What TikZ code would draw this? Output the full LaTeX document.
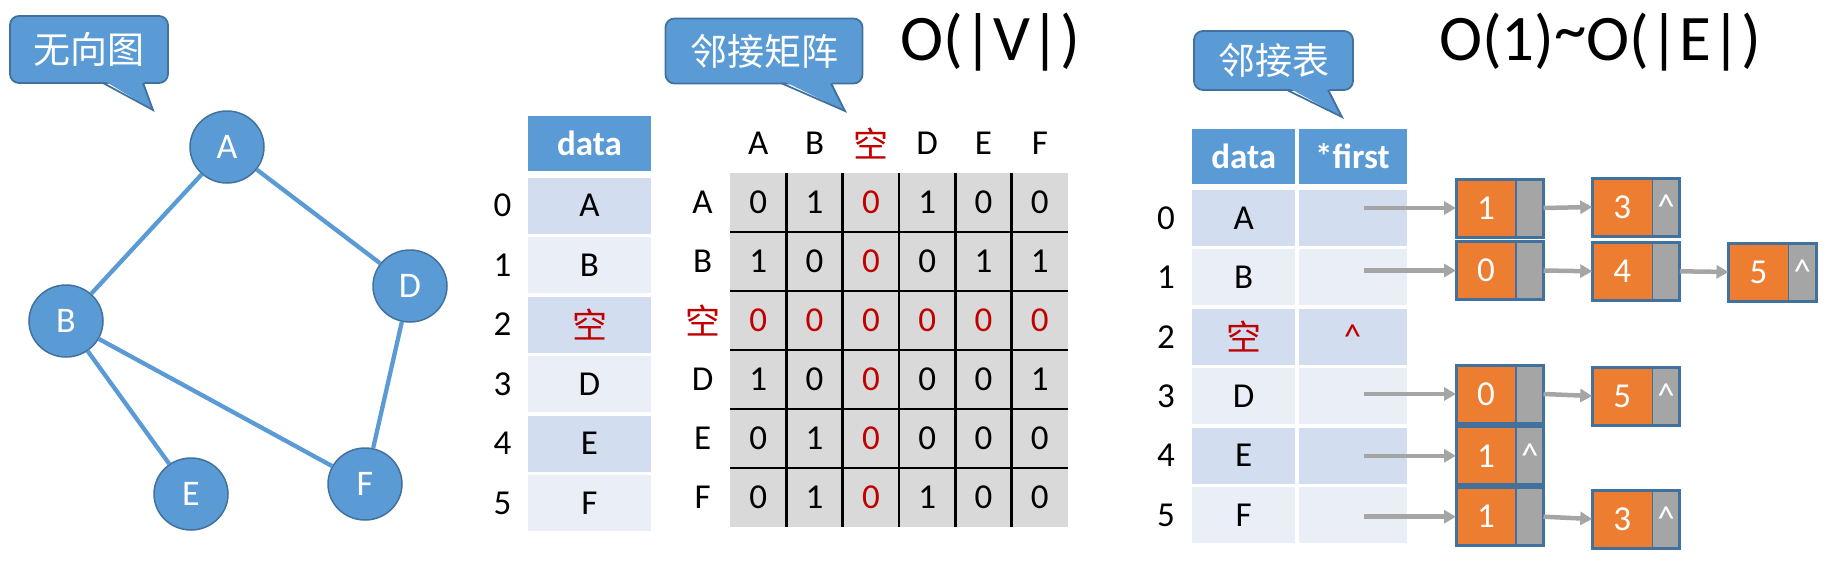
\documentclass[tikz,border=0pt]{standalone}
\usepackage{fontspec}
\setmainfont{Carlito}
\newfontfamily\cjk{Noto Sans CJK SC}
\usetikzlibrary{shapes.geometric,arrows.meta,positioning}

\definecolor{fillBlue}{HTML}{5B9BD5}
\definecolor{edgeBlue}{HTML}{41719C}
\definecolor{bandD}{HTML}{D2DEEF}
\definecolor{bandL}{HTML}{EAEFF7}
\definecolor{cellGray}{HTML}{D9D9D9}
\definecolor{redK}{HTML}{C00000}
\definecolor{listOrange}{HTML}{ED7D31}
\definecolor{listGray}{HTML}{A5A5A5}

\begin{document}
\begin{tikzpicture}[x=1pt, y=-1pt,
  every node/.style={inner sep=0pt, font=\fontsize{35}{42}\selectfont},
  vert/.style={ellipse, draw=edgeBlue, line width=1.5pt, fill=fillBlue,
               text=white, minimum width=74pt, minimum height=72pt,
               font=\fontsize{36}{42}\selectfont},
  link/.style={fillBlue, line width=4.3pt},
  bubble/.style={draw=edgeBlue, line width=1.8pt, fill=fillBlue,
                 rounded corners=9pt, text=white,
                 font=\cjk\fontsize{37}{44}\selectfont},
  hdr/.style={fill=fillBlue, text=white, minimum height=55pt,
              font=\fontsize{35}{42}\selectfont\bfseries},
  cell/.style={minimum height=56pt},
  gline/.style={black, line width=2.5pt},
  dat/.style={fill=listOrange, draw=edgeBlue, line width=1.5pt, outer sep=0pt,
              text=white, minimum width=60pt, minimum height=58pt},
  ptr/.style={fill=listGray, draw=edgeBlue, line width=1.5pt, outer sep=0pt,
              text=white, minimum width=27.5pt, minimum height=58pt},
  nxt/.style={listGray, line width=4.5pt, -{Triangle[length=12pt,width=13pt]}},
  big/.style={font=\fontsize{65}{72}\selectfont, anchor=base}
]
\useasboundingbox (0,0) rectangle (1836,562);

%% undirected graph
\node[vert] (A) at (227,147) {A};
\node[vert] (B) at (66,321) {B};
\node[vert] (D) at (410,286) {D};
\node[vert] (E) at (191,494) {E};
\node[vert] (F) at (365,484) {F};
\foreach \u/\w in {A/B, A/D, B/E, B/F, D/F}
  \draw[link] (\u) -- (\w);

%% callouts
\node[bubble, minimum width=158pt, minimum height=67pt] (cg) at (89,49.5) {无向图};
\node[bubble, minimum width=197pt, minimum height=65pt] (cm) at (764,51) {邻接矩阵};
\node[bubble, minimum width=159pt, minimum height=59pt] (ct) at (1273.5,60.5) {邻接表};
\foreach \a/\b/\yb/\tx/\ty in {103/143/83/153/110, 782/831/83.5/845/111, 1287/1328/90/1342/117} {
  \fill[fillBlue] (\a,{\yb-3}) -- (\tx,\ty) -- (\b,{\yb-3}) -- cycle;
  \draw[edgeBlue, line width=1.8pt] (\a,\yb) -- (\tx,\ty) -- (\b,\yb);
}

%% vertex table
\node[hdr, minimum width=123pt] (dh) at (589.5,143.3) {data};
\foreach \t [count=\i from 0] in {A,B,{\cjk\color{redK}空},D,E,F} {
  \ifodd\i \def\rowfill{bandL}\else\def\rowfill{bandD}\fi
  \node[cell, fill=\rowfill, minimum width=123pt] (d\i) at (589.5,{205.5+59.5*\i}) {\t};
  \node (di\i) at (502.5,{205.5+59.5*\i}) {\i};
}

%% adjacency matrix
\fill[cellGray] (730,173) rectangle (1068,527);
\foreach \k in {1,...,5} {
  \draw[gline] ({730+338/6*\k},173) -- ({730+338/6*\k},527);
  \draw[gline] (730,{173+59*\k}) -- (1068,{173+59*\k});
}
\foreach \t [count=\j from 0] in {A,B,{\cjk\color{redK}空},D,E,F} {
  \node (ch\j) at ({758.2+56.33*\j},143) {\t};
  \node (rh\j) at (702.6,{202.5+59*\j}) {\t};
}
\foreach \row [count=\i from 0] in {{0,1,0,1,0,0},{1,0,0,0,1,1},{0,0,0,0,0,0},
                                   {1,0,0,0,0,1},{0,1,0,0,0,0},{0,1,0,1,0,0}}
  \foreach \v [count=\j from 0] in \row {
    \ifnum\i=2 \def\vc{redK}\else\ifnum\j=2 \def\vc{redK}\else\def\vc{black}\fi\fi
    \node[text=\vc] (m\i\j) at ({758.2+56.33*\j},{202.5+59*\i}) {\v};
  }

\node[big] (ov) at (990.5,60) {O(|V|)};

%% adjacency list
\node[big] (oe) at (1600,60) {O(1)\raisebox{9pt}{\textasciitilde}O(|E|)};
\node[hdr, minimum width=103pt] (ah) at (1243.7,156) {data};
\node[hdr, minimum width=108pt] (fh) at (1352.5,156) {*first};
\foreach \t/\p [count=\i from 0] in {A/{},B/{},{\cjk\color{redK}空}/{\color{redK}\textasciicircum},D/{},E/{},F/{}} {
  \ifodd\i \def\rowfill{bandL}\else\def\rowfill{bandD}\fi
  \node[cell, fill=\rowfill, minimum width=103pt] (a\i) at (1243.7,{218+59.4*\i}) {\t};
  \node[cell, fill=\rowfill, minimum width=108pt] (f\i) at (1352.5,{218+59.4*\i}) {\p};
  \node (ai\i) at (1166,{218+59.4*\i}) {\i};
}
\foreach \r/\c/\v/\e/\y in {0/0/1//208, 0/1/3/\textasciicircum/207,
    1/0/0//270.5, 1/1/4//271.3, 1/2/5/\textasciicircum/272,
    3/0/0//394, 3/1/5/\textasciicircum/396, 4/0/1/\textasciicircum/455.8,
    5/0/1//516.7, 5/1/3/\textasciicircum/519} {
  \node[dat] (l\r\c) at ({1486+136.25*\c},\y) {\v};
  \node[ptr, anchor=west] (p\r\c) at (l\r\c.east) {\e};
  \draw[edgeBlue, line width=3pt] (l\r\c.north west) rectangle (p\r\c.south east);
}
\foreach \r in {0,1,3,4,5}
  \draw[nxt, shorten <=11pt] (f\r.center |- l\r0.west) -- (l\r0.west);
\foreach \r/\c/\d in {0/0/1, 1/0/1, 1/1/2, 3/0/1, 5/0/1}
  \draw[nxt] (p\r\c.east) -- (l\r\d.west);
\end{tikzpicture}
\end{document}
